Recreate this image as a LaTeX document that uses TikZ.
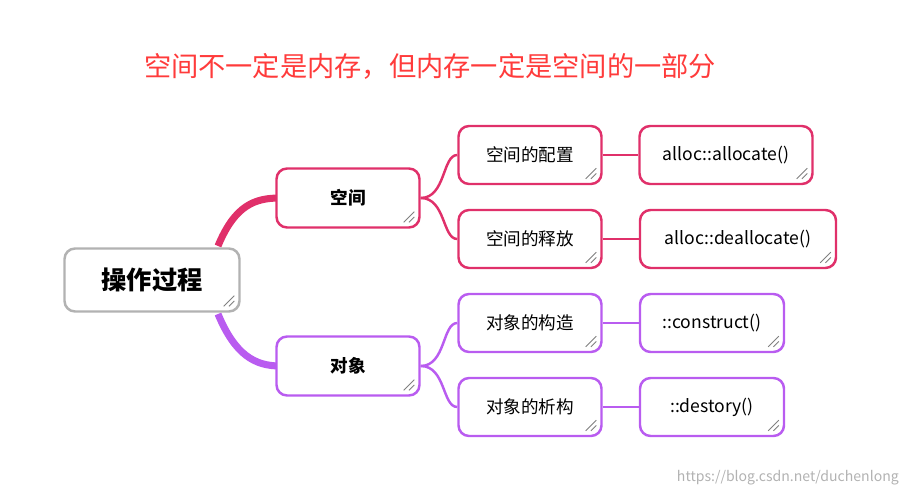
\documentclass[tikz,border=0pt]{standalone}
\usepackage{fontspec}
\setmainfont{Noto Sans CJK SC}
\tikzset{x=0.02cm,y=-0.02cm}
\definecolor{titlered}{HTML}{FF3B3B}
\definecolor{spacered}{HTML}{E0306A}
\definecolor{objpurple}{HTML}{B95CF0}
\tikzset{
  box/.style={draw, rounded corners=6pt, line width=1.4pt, fill=white, inner sep=0pt,
    path picture={\draw[gray, line width=0.5pt]
      ([xshift=-3pt,yshift=9pt]path picture bounding box.south east) -- ([xshift=-9pt,yshift=3pt]path picture bounding box.south east)
      ([xshift=-3pt,yshift=6pt]path picture bounding box.south east) -- ([xshift=-6pt,yshift=3pt]path picture bounding box.south east);}},
  rootbox/.style={box, draw=gray!60, minimum width=175*0.02cm, minimum height=63*0.02cm, font=\bfseries\Large},
  midbox/.style={box, minimum width=143*0.02cm, minimum height=59*0.02cm, font=\bfseries},
  leafbox/.style={box, minimum height=58*0.02cm},
  link/.style={line width=1.4pt}
}
\begin{document}
\begin{tikzpicture}
\useasboundingbox (0,0) rectangle (913,496);
\node[text=titlered, font=\fontsize{15.5}{18}\selectfont] (title) at (430,66) {空间不一定是内存，但内存一定是空间的一部分};
% branches from root
\draw[spacered, line width=4pt] (218,246) .. controls (235,205) and (255,198) .. (280,198);
\draw[objpurple, line width=4pt] (218,314) .. controls (235,355) and (255,366) .. (280,366);
\node[rootbox] (root) at (152,280) {操作过程};
\node[midbox, draw=spacered] (space) at (348,198) {空间};
\node[midbox, draw=objpurple] (obj) at (348,366) {对象};
% second level
\foreach \name/\y/\txt/\col/\up in {sa/155/空间的配置/spacered/space, sb/239/空间的释放/spacered/space,
    oa/323/对象的构造/objpurple/obj, ob/407/对象的析构/objpurple/obj}{
  \node[leafbox, draw=\col, minimum width=143*0.02cm] (\name) at (530,\y) {\txt};
  \draw[link, \col] (\up.east) .. controls +(25,0) and +(-15,0) .. (\name.west);
}
% third level
\node[leafbox, draw=spacered, minimum width=173*0.02cm] (fa) at (726,155) {alloc::allocate()};
\node[leafbox, draw=spacered, minimum width=196*0.02cm] (fb) at (738,239) {alloc::deallocate()};
\node[leafbox, draw=objpurple, minimum width=144*0.02cm] (fc) at (712,323) {::construct()};
\node[leafbox, draw=objpurple, minimum width=144*0.02cm] (fd) at (712,407) {::destory()};
\draw[link, spacered] (sa) -- (fa);
\draw[link, spacered] (sb) -- (fb);
\draw[link, objpurple] (oa) -- (fc);
\draw[link, objpurple] (ob) -- (fd);
\node[text=gray!60, font=\footnotesize, anchor=east] (mark) at (905,478) {https://blog.csdn.net/duchenlong};
\end{tikzpicture}
\end{document}
